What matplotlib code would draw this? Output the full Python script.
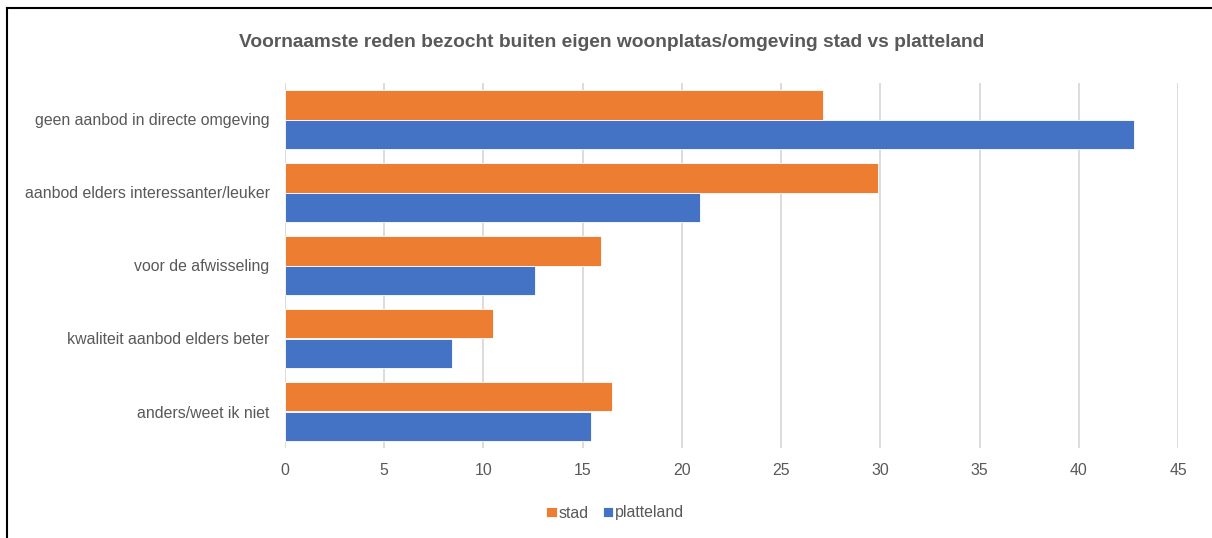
import numpy as np
import matplotlib
matplotlib.use('Agg')
import matplotlib.pyplot as plt
from matplotlib.lines import Line2D

# data
categories = ['geen aanbod in directe omgeving',
              'aanbod elders interessanter/leuker',
              'voor de afwisseling',
              'kwaliteit aanbod elders beter',
              'anders/weet ik niet']
stad = [27.1, 29.9, 15.9, 10.5, 16.5]
platteland = [42.8, 20.9, 12.6, 8.4, 15.4]
xticks = [0, 5, 10, 15, 20, 25, 30, 35, 40, 45]

ORANGE = '#ED7D31'
BLUE = '#4472C4'
TXT = '#595959'

plt.rcParams['font.family'] = ['Liberation Sans', 'DejaVu Sans']

fig = plt.figure(figsize=(12.12, 5.38), dpi=100)
ax = fig.add_axes([285/1212, 1 - 448/538, 893/1212, 365/538])

y = np.arange(len(categories))
h = 0.4
ax.barh(y - h/2, stad, height=h, color=ORANGE, edgecolor='white', linewidth=0.6, label='stad', zorder=3)
ax.barh(y + h/2, platteland, height=h, color=BLUE, edgecolor='white', linewidth=0.6, label='platteland', zorder=3)

ax.set_ylim(len(categories) - 0.5, -0.5)
ax.set_yticks(y)
ax.set_yticklabels(categories, fontsize=11.4, color=TXT)
ax.set_xlim(0, 45)
ax.set_xticks(xticks)
ax.set_xticklabels([str(t) for t in xticks], fontsize=11.4, color=TXT)
ax.tick_params(axis='both', length=0)
ax.tick_params(axis='x', pad=11)
ax.tick_params(axis='y', pad=11)

ax.grid(axis='x', color='#D9D9D9', linewidth=1.3, zorder=0)
for s in ax.spines.values():
    s.set_visible(False)

fig.suptitle('Voornaamste reden bezocht buiten eigen woonplatas/omgeving stad vs platteland',
             x=0.505, y=1 - 34/538, fontsize=13.8, fontweight='bold', color=TXT, va='top')

ax.legend(loc='center', bbox_to_anchor=(615/1212, 1 - 513/538),
          bbox_transform=fig.transFigure, ncol=2, frameon=False, fontsize=11.4,
          handlelength=0.65, handleheight=0.65, handletextpad=0.1, columnspacing=0.9,
          labelcolor=TXT)

# chart border (only top and left are visible in the crop)
fig.add_artist(Line2D([7/1212, 1], [1 - 8/538, 1 - 8/538], color='black', linewidth=1.5))
fig.add_artist(Line2D([7/1212, 7/1212], [0, 1 - 8/538], color='black', linewidth=1.5))

fig.savefig('out.png', dpi=100)
